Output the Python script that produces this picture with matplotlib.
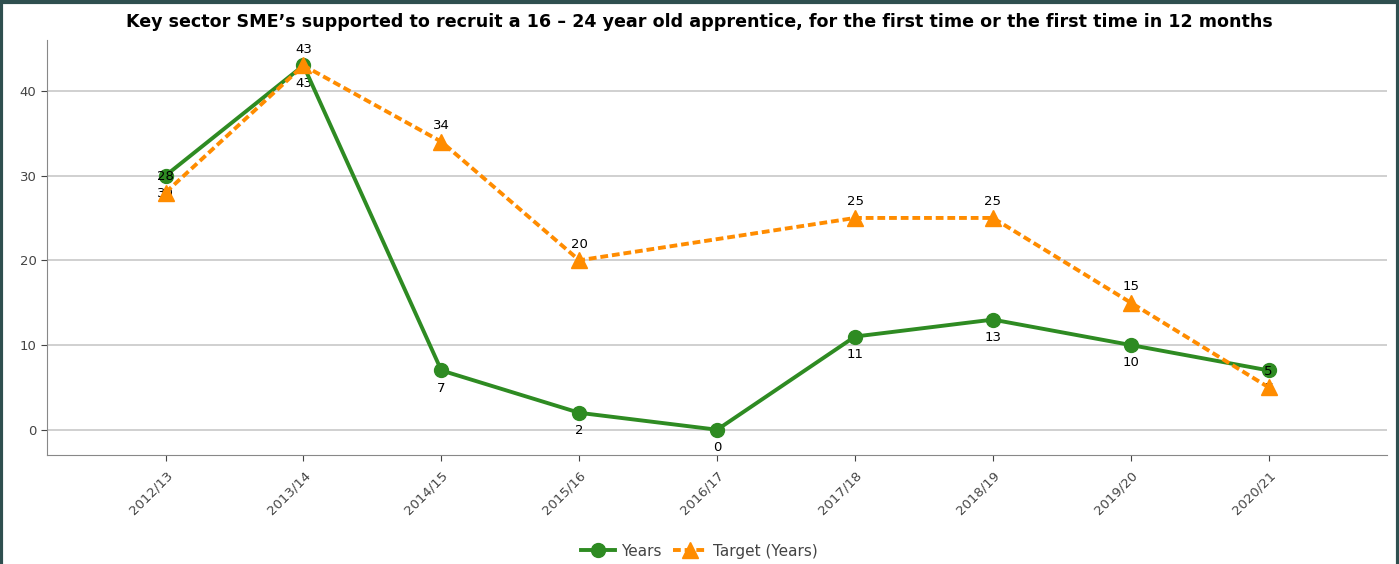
import numpy as np
import matplotlib.pyplot as plt
from matplotlib.lines import Line2D

# data
years = ["2012/13", "2013/14", "2014/15", "2015/16", "2016/17",
         "2017/18", "2018/19", "2019/20", "2020/21"]
actual = [30, 43, 7, 2, 0, 11, 13, 10, 7]
target = [28, 43, 34, 20, np.nan, 25, 25, 15, 5]

green = '#2E8B22'
orange = '#FF8C00'

fig = plt.figure(figsize=(13.99, 5.64), dpi=100)
ax = fig.add_axes([0.0336, 0.193, 0.958, 0.736])

x = np.arange(len(years))
t = np.array(target, dtype=float)
ok = ~np.isnan(t)

ax.plot(x, actual, color=green, linewidth=2.8, marker='o', markersize=10,
        label='Years', zorder=3)
ax.plot(x[ok], t[ok], color=orange, linewidth=2.8, linestyle=(0, (2, 1)),
        marker='^', markersize=11, label='Target (Years)', zorder=4)

for xi, v in zip(x, actual):
    ax.annotate(f'{v}', (xi, v), xytext=(0, -8), textcoords='offset points',
                ha='center', va='top', fontsize=9.5, zorder=2)
for xi, v in zip(x[ok], t[ok]):
    ax.annotate(f'{int(v)}', (xi, v), xytext=(0, 7), textcoords='offset points',
                ha='center', va='bottom', fontsize=9.5, zorder=5)

ax.set_xlim(-0.86, 8.86)
ax.set_ylim(-3, 46)
ax.set_yticks([0, 10, 20, 30, 40])
ax.set_xticks(x)
ax.set_xticklabels(years, rotation=45, ha='right', rotation_mode='anchor')
ax.tick_params(colors='#444444', labelsize=9.5, length=4)
ax.tick_params(axis='x', pad=6)
ax.grid(axis='y', color='#c8c8c8', linewidth=1.2)
ax.set_axisbelow(True)
for s in ['top', 'right']:
    ax.spines[s].set_visible(False)
for s in ['left', 'bottom']:
    ax.spines[s].set_color('#888888')

fig.suptitle("Key sector SME\u2019s supported to recruit a 16 \u2013 24 year old apprentice, "
             "for the first time or the first time in 12 months",
             fontsize=12.6, fontweight='bold', x=0.5, y=0.977)

fig.legend(loc='lower center', bbox_to_anchor=(0.5, -0.015), ncol=2, frameon=False,
           fontsize=11, handlelength=2.2, columnspacing=0.8, handletextpad=0.4,
           labelcolor='#444444')

# dark frame on left, top and right
frame = dict(color='#2F4F4F', linewidth=3, transform=fig.transFigure)
fig.lines.append(Line2D([0.001, 0.001], [0, 0.997], **frame))
fig.lines.append(Line2D([0.001, 0.999], [0.997, 0.997], **frame))
fig.lines.append(Line2D([0.999, 0.999], [0, 0.997], **frame))

fig.savefig('out.png', dpi=100)
